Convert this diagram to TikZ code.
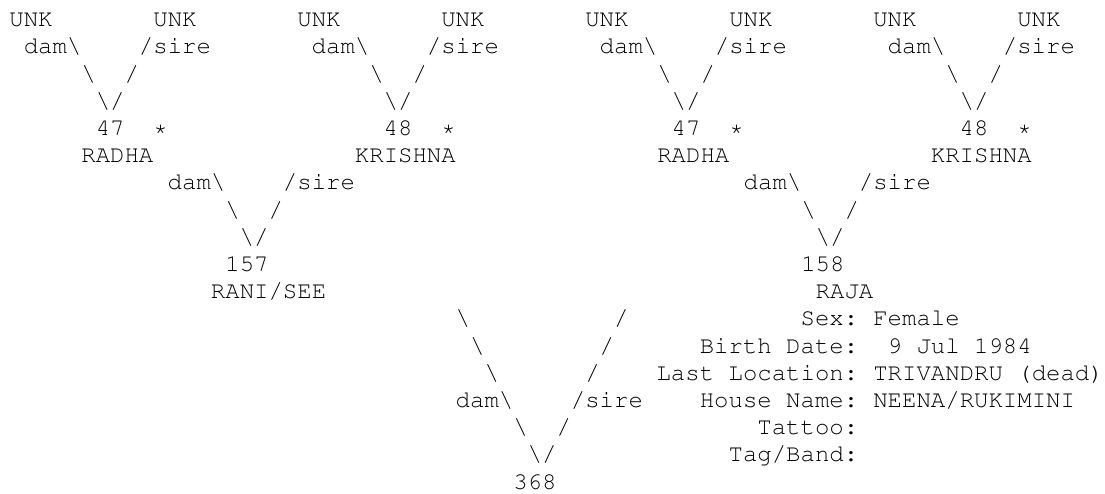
\documentclass[tikz,border=0pt]{standalone}
\usepackage[T1]{fontenc}
\usetikzlibrary{positioning}
\newcommand{\bksl}{\textbackslash}
\tikzset{
  ped/.style={font=\fontfamily{pcr}\fontsize{13.66pt}{16pt}\selectfont,inner sep=0pt,
    anchor=base west,text=black},
  plab/.style={ped,anchor=base east},
}
\begin{document}
\begin{tikzpicture}[x=0.288cm,y=-0.544cm]
    \useasboundingbox (-0.18cm,0.534cm) rectangle (21.92cm,-9.346cm);
    % grandparents with unknown parents
    \foreach \g/\o/\id/\nm/\nc in {a/0/47/RADHA/5,b/20/48/KRISHNA/24,c/40/47/RADHA/45,d/60/48/KRISHNA/64}{
      \node[ped] (unkd-\g) at (\o,0) {UNK};
      \node[ped] (unks-\g) at (\o+10,0) {UNK};
      \node[ped] (dam-\g) at (\o+1,1) {dam\bksl};
      \node[ped] (sire-\g) at (\o+9,1) {/sire};
      \node[ped] (ld-\g) at (\o+5,2) {\bksl};
      \node[ped] (ls-\g) at (\o+8,2) {/};
      \node[ped] (v-\g) at (\o+6,3) {\bksl/};
      \node[ped] (id-\g) at (\o+6,4) {\id};
      \node[ped] (star-\g) at (\o+10,4) {*};
      \node[ped] (nm-\g) at (\nc,5) {\nm};
    }
    % parents
    \foreach \g/\o/\id in {l/10/157,r/50/158}{
      \node[ped] (dam-\g) at (\o+1,6) {dam\bksl};
      \node[ped] (sire-\g) at (\o+9,6) {/sire};
      \node[ped] (ld-\g) at (\o+5,7) {\bksl};
      \node[ped] (ls-\g) at (\o+8,7) {/};
      \node[ped] (v-\g) at (\o+6,8) {\bksl/};
      \node[ped] (id-\g) at (\o+5,9) {\id};
    }
    \node[ped] (nm-l) at (14,10) {RANI/SEE};
    \node[ped] (nm-r) at (56,10) {RAJA};
    % the animal itself
    \foreach \r in {0,1,2}{
      \node[ped] (ld-\r) at (31+\r,11+\r) {\bksl};
      \node[ped] (ls-\r) at (42-\r,11+\r) {/};
    }
    \node[ped] (dam-m) at (31,14) {dam\bksl};
    \node[ped] (sire-m) at (39,14) {/sire};
    \node[ped] (ld-m) at (35,15) {\bksl};
    \node[ped] (ls-m) at (38,15) {/};
    \node[ped] (v-m) at (36,16) {\bksl/};
    \node[ped] (id-m) at (35,17) {368};
    % record of RAJA
    \node[plab] (lab-sex) at (59,11) {Sex:};
    \node[ped] (val-sex) at (60,11) {Female};
    \node[plab] (lab-birth) at (59,12) {Birth Date:};
    \node[ped] (val-birth) at (61,12) {9 Jul 1984};
    \node[plab] (lab-loc) at (59,13) {Last Location:};
    \node[ped] (val-loc) at (60,13) {TRIVANDRU (dead)};
    \node[plab] (lab-house) at (59,14) {House Name:};
    \node[ped] (val-house) at (60,14) {NEENA/RUKIMINI};
    \node[plab] (lab-tattoo) at (59,15) {Tattoo:};
    \node[plab] (lab-tag) at (59,16) {Tag/Band:};
  \end{tikzpicture}
\end{document}
